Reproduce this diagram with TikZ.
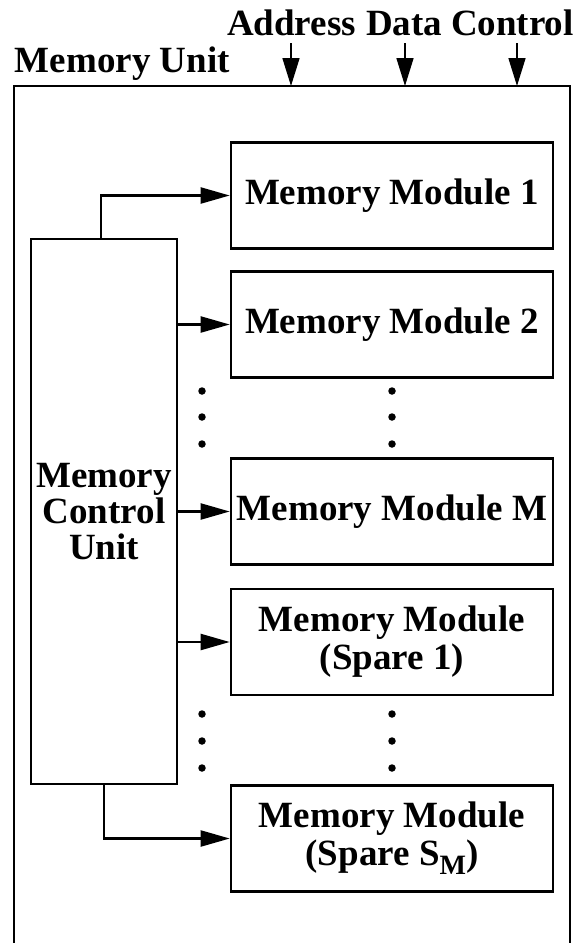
\documentclass[tikz,border=0pt]{standalone}
\usepackage{fontspec}
\setmainfont{Liberation Serif}
\usetikzlibrary{arrows.meta}
\tikzset{
  lbl/.style={font=\fontsize{37}{37}\selectfont\bfseries, inner sep=0pt, outer sep=0pt},
  modbox/.style={draw, line width=2.6pt, minimum width=322pt, minimum height=106pt, inner sep=0pt,
                 align=center, font=\fontsize{37}{38}\selectfont\bfseries},
  ctrlbox/.style={draw, line width=2.6pt, minimum width=146pt, minimum height=545pt, inner sep=0pt,
                 align=center, font=\fontsize{37}{36}\selectfont\bfseries},
  conn/.style={line width=2.2pt, -{Triangle[length=29pt,width=16pt]}},
  inarrow/.style={line width=1.6pt, -{Triangle[length=28pt,width=17pt]}},
  dotmark/.style={circle, fill, inner sep=0pt, minimum size=7.5pt}
}
\begin{document}
\begin{tikzpicture}[x=1pt,y=-1pt]
\useasboundingbox (0,0) rectangle (581,943);
% outer unit frame (open at the bottom)
\draw[line width=2.6pt] (14,943) -- (14,86) -- (570,86) -- (570,943);
\node[lbl, anchor=base west] (mu) at (15,72) {Memory Unit};
\node[lbl, anchor=base west] (addr) at (227,35) {Address};
\node[lbl, anchor=base west] (data) at (366,35) {Data};
\node[lbl, anchor=base west] (ctrl) at (451,35) {Control};
\coordinate (ta) at (291,86);
\coordinate (td) at (405,86);
\coordinate (tc) at (517,86);
\draw[inarrow] (ta |- 0,43) -- (ta);
\draw[inarrow] (td |- 0,43) -- (td);
\draw[inarrow] (tc |- 0,43) -- (tc);
% modules
\node[modbox] (m1) at (392,195.5) {Memory Module 1};
\node[modbox] (m2) at (392,324.5) {Memory Module 2};
\node[modbox] (mm) at (392,511.5) {Memory Module M};
\node[modbox] (s1) at (392,642) {Memory Module\\(Spare 1)};
\node[modbox] (sm) at (392,838.5) {Memory Module\\(Spare S\raisebox{-9pt}{\fontsize{28}{28}\selectfont M})};
% control unit
\node[ctrlbox] (mcu) at (104,511.5) {Memory\\Control\\Unit};
% connectors
\draw[conn] (mcu.north -| 101,0) |- (m1.west);
\draw[conn] (mcu.east |- m2.west) -- (m2.west);
\draw[conn] (mcu.east |- mm.west) -- (mm.west);
\draw[conn] (mcu.east |- s1.west) -- (s1.west);
\draw[conn] (mcu.south -| 104,0) |- (sm.west);
% ellipsis dots
\foreach \y [count=\i] in {391,417,444} {
  \node[dotmark] (dl\i) at (202,\y) {};
  \node[dotmark] (dr\i) at (392,\y) {};
}
\foreach \y [count=\i] in {714,741,768} {
  \node[dotmark] (el\i) at (202,\y) {};
  \node[dotmark] (er\i) at (392,\y) {};
}
\end{tikzpicture}
\end{document}
